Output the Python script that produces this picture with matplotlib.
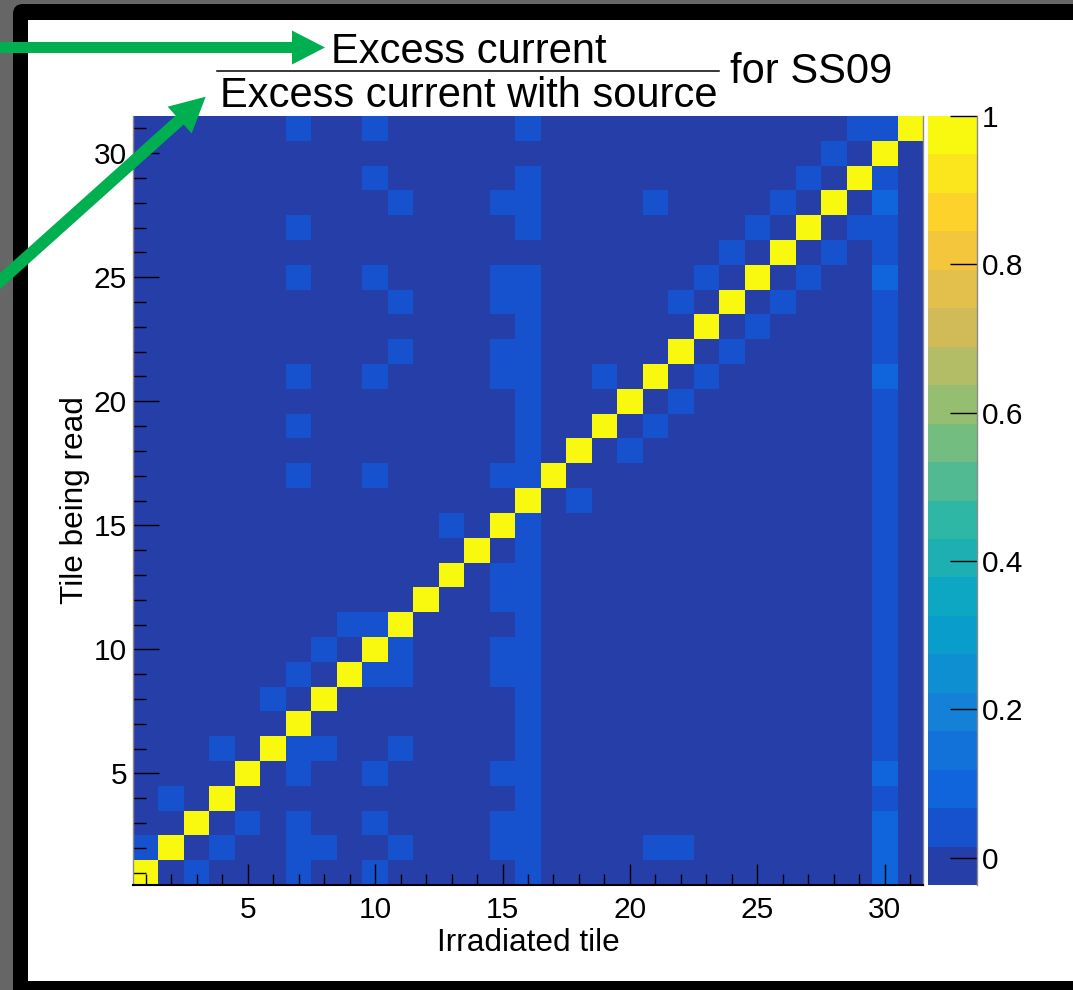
import numpy as np
import matplotlib
matplotlib.use("Agg")
import matplotlib.pyplot as plt
from matplotlib.colors import ListedColormap, BoundaryNorm
from matplotlib.patches import FancyArrow, Rectangle, FancyBboxPatch
from matplotlib.ticker import MultipleLocator, FixedLocator

plt.rcParams['font.family'] = ['Liberation Sans', 'DejaVu Sans']

# ---------------- data ----------------
irradiated_tile = list(range(1, 32))   # x bins
tile_read = list(range(1, 32))         # y bins
# ratio rows listed from tile 31 (top) down to tile 1 (bottom); columns = irradiated tile 1..31
ratio_top_down = [
    [0, 0, 0, 0, 0,   0, .04, 0, 0, .04,   0, 0, 0, 0, 0,   .04, 0, 0, 0, 0,   0, 0, 0, 0, 0,   0, 0, 0, .04, .04,   1],    # 31
    [0, 0, 0, 0, 0,   0, 0, 0, 0, 0,       0, 0, 0, 0, 0,   0, 0, 0, 0, 0,     0, 0, 0, 0, 0,   0, 0, .04, 0, 1,     0],    # 30
    [0, 0, 0, 0, 0,   0, 0, 0, 0, .04,     0, 0, 0, 0, 0,   .04, 0, 0, 0, 0,   0, 0, 0, 0, 0,   0, .04, 0, 1, .04,   0],    # 29
    [0, 0, 0, 0, 0,   0, 0, 0, 0, 0,       .04, 0, 0, 0, .04, .04, 0, 0, 0, 0, .04, 0, 0, 0, 0, .04, 0, 1, 0, .09,   0],    # 28
    [0, 0, 0, 0, 0,   0, .04, 0, 0, 0,     0, 0, 0, 0, 0,   .04, 0, 0, 0, 0,   0, 0, 0, 0, .04, 0, 1, 0, .04, .04,   0],    # 27
    [0, 0, 0, 0, 0,   0, 0, 0, 0, 0,       0, 0, 0, 0, 0,   0, 0, 0, 0, 0,     0, 0, 0, .04, 0, 1, 0, .04, 0, .04,   0],    # 26
    [0, 0, 0, 0, 0,   0, .04, 0, 0, .04,   0, 0, 0, 0, .04, .04, 0, 0, 0, 0,   0, 0, .04, 0, 1, 0, .04, 0, 0, .09,   0],    # 25
    [0, 0, 0, 0, 0,   0, 0, 0, 0, 0,       .04, 0, 0, 0, .04, .04, 0, 0, 0, 0, 0, .04, 0, 1, 0, .04, 0, 0, 0, .04,   0],    # 24
    [0, 0, 0, 0, 0,   0, 0, 0, 0, 0,       0, 0, 0, 0, 0,   .04, 0, 0, 0, 0,   0, 0, 1, 0, .04,   0, 0, 0, 0, .04,     0],    # 23
    [0, 0, 0, 0, 0,   0, 0, 0, 0, 0,       .04, 0, 0, 0, .04, .04, 0, 0, 0, 0, 0, 1, 0, .04, 0,   0, 0, 0, 0, .04,     0],    # 22
    [0, 0, 0, 0, 0,   0, .04, 0, 0, .04,   0, 0, 0, 0, .04, .04, 0, 0, .04, 0, 1, 0, .04, 0, 0,   0, 0, 0, 0, .09,     0],    # 21
    [0, 0, 0, 0, 0,   0, 0, 0, 0, 0,       0, 0, 0, 0, 0,   .04, 0, 0, 0, 1,   0, .04, 0, 0, 0,   0, 0, 0, 0, .04,     0],    # 20
    [0, 0, 0, 0, 0,   0, .04, 0, 0, 0,     0, 0, 0, 0, 0,   .04, 0, 0, 1, 0,   .04, 0, 0, 0, 0,   0, 0, 0, 0, .04,     0],    # 19
    [0, 0, 0, 0, 0,   0, 0, 0, 0, 0,       0, 0, 0, 0, 0,   .04, 0, 1, 0, .04, 0, 0, 0, 0, 0,     0, 0, 0, 0, .04,     0],    # 18
    [0, 0, 0, 0, 0,   0, .04, 0, 0, .04,   0, 0, 0, 0, .04, .04, 1, 0, 0, 0,   0, 0, 0, 0, 0,     0, 0, 0, 0, .04,     0],    # 17
    [0, 0, 0, 0, 0,   0, 0, 0, 0, 0,       0, 0, 0, 0, 0,   1, 0, .04, 0, 0,   0, 0, 0, 0, 0,     0, 0, 0, 0, .04,     0],    # 16
    [0, 0, 0, 0, 0,   0, 0, 0, 0, 0,       0, 0, .04, 0, 1, .04, 0, 0, 0, 0,   0, 0, 0, 0, 0,     0, 0, 0, 0, .04,     0],    # 15
    [0, 0, 0, 0, 0,   0, 0, 0, 0, 0,       0, 0, 0, 1, 0,   .04, 0, 0, 0, 0,   0, 0, 0, 0, 0,     0, 0, 0, 0, .04,     0],    # 14
    [0, 0, 0, 0, 0,   0, 0, 0, 0, 0,       0, 0, 1, 0, .04, .04, 0, 0, 0, 0,   0, 0, 0, 0, 0,     0, 0, 0, 0, .04,     0],    # 13
    [0, 0, 0, 0, 0,   0, 0, 0, 0, 0,       0, 1, 0, 0, .04, .04, 0, 0, 0, 0,   0, 0, 0, 0, 0,     0, 0, 0, 0, .04,     0],    # 12
    [0, 0, 0, 0, 0,   0, 0, 0, .04, .04,   1, 0, 0, 0, 0,   .04, 0, 0, 0, 0,   0, 0, 0, 0, 0,     0, 0, 0, 0, .04,     0],    # 11
    [0, 0, 0, 0, 0,   0, 0, .04, 0, 1,     .04, 0, 0, 0, .04, .04, 0, 0, 0, 0, 0, 0, 0, 0, 0,     0, 0, 0, 0, .04,     0],    # 10
    [0, 0, 0, 0, 0,   0, .04, 0, 1, .04,   .04, 0, 0, 0, .04, .04, 0, 0, 0, 0, 0, 0, 0, 0, 0,     0, 0, 0, 0, .04,     0],    # 9
    [0, 0, 0, 0, 0,   .04, 0, 1, 0, 0,     0, 0, 0, 0, 0,   .04, 0, 0, 0, 0,   0, 0, 0, 0, 0,     0, 0, 0, 0, .04,     0],    # 8
    [0, 0, 0, 0, 0,   0, 1, 0, 0, 0,       0, 0, 0, 0, 0,   .04, 0, 0, 0, 0,   0, 0, 0, 0, 0,     0, 0, 0, 0, .04,     0],    # 7
    [0, 0, 0, .04, 0, 1, .04, .04, 0, 0,   .04, 0, 0, 0, 0, .04, 0, 0, 0, 0,   0, 0, 0, 0, 0,     0, 0, 0, 0, .04,     0],    # 6
    [0, 0, 0, 0, 1,   0, .04, 0, 0, .04,   0, 0, 0, 0, .04, .04, 0, 0, 0, 0,   0, 0, 0, 0, 0,     0, 0, 0, 0, .09,     0],    # 5
    [0, .04, 0, 1, 0, 0, 0, 0, 0, 0,       0, 0, 0, 0, 0,   .04, 0, 0, 0, 0,   0, 0, 0, 0, 0,     0, 0, 0, 0, .04,     0],    # 4
    [0, 0, 1, 0, .04, 0, .04, 0, 0, .04,   0, 0, 0, 0, .04, .04, 0, 0, 0, 0,   0, 0, 0, 0, 0,     0, 0, 0, 0, .09,     0],    # 3
    [.04, 1, 0, .04, 0, 0, .04, .04, 0, 0, .04, 0, 0, 0, .04, .04, 0, 0, 0, 0, .04, .04, 0, 0, 0, 0, 0, 0, 0, .09,     0],    # 2
    [1, 0, .04, 0, 0, 0, .04, 0, 0, .04,   0, 0, 0, 0, 0,   .04, 0, 0, 0, 0,   0, 0, 0, 0, 0,     0, 0, 0, 0, .09,     0],    # 1
]
z_min, z_max = -0.037, 1.0
n_contours = 20
x_ticks = [5, 10, 15, 20, 25, 30]
y_ticks = [5, 10, 15, 20, 25, 30]
cbar_ticks = [0, 0.2, 0.4, 0.6, 0.8, 1.0]
cbar_ticklabels = ['0', '0.2', '0.4', '0.6', '0.8', '1']

for r in ratio_top_down:
    assert len(r) == 31, len(r)
Z = np.array(ratio_top_down[::-1], dtype=float)

# ---------------- ROOT kBird palette ----------------
stops = [0.0, 0.125, 0.25, 0.375, 0.5, 0.625, 0.75, 0.875, 1.0]
red = [0.2082, 0.0592, 0.0780, 0.0232, 0.1802, 0.5301, 0.8186, 0.9956, 0.9764]
green = [0.1664, 0.3599, 0.5041, 0.6419, 0.7178, 0.7492, 0.7328, 0.7862, 0.9832]
blue = [0.5293, 0.8684, 0.8385, 0.7914, 0.6425, 0.4662, 0.3499, 0.1968, 0.0539]
NC = 255
pal = []
for g in range(1, len(stops)):
    n = int(np.floor(NC * stops[g]) - np.floor(NC * stops[g - 1]))
    for c in range(n):
        f = c / n
        pal.append((red[g-1] + f * (red[g] - red[g-1]),
                    green[g-1] + f * (green[g] - green[g-1]),
                    blue[g-1] + f * (blue[g] - blue[g-1])))
band_colors = [pal[int((i + 0.99) * NC / n_contours)] for i in range(n_contours)]
cmap = ListedColormap(band_colors)
bounds = np.linspace(z_min, z_max, n_contours + 1)
norm = BoundaryNorm(bounds, ncolors=n_contours)

# ---------------- figure ----------------
W, H = 1073, 990
fig = plt.figure(figsize=(W / 100, H / 100), dpi=100)
fig.patch.set_facecolor('white')

# background frame
bg = fig.add_axes([0, 0, 1, 1], zorder=-5)
bg.set_xlim(0, W); bg.set_ylim(H, 0); bg.axis('off')
bg.add_patch(Rectangle((0, 0), W, H, facecolor='#666666', edgecolor='none'))
bg.add_patch(FancyBboxPatch((13, 4), 1200, 1200, boxstyle='round,pad=0,rounding_size=10',
                            facecolor='black', edgecolor='none'))
bg.add_patch(Rectangle((28, 20), 1200, 961, facecolor='white', edgecolor='none'))

def px(x0, y0, x1, y1):
    return [x0 / W, 1 - y1 / H, (x1 - x0) / W, (y1 - y0) / H]

ax = fig.add_axes(px(133, 116, 923, 885), zorder=0)
edges_x = np.arange(0.5, len(irradiated_tile) + 1.0, 1.0)
edges_y = np.arange(0.5, len(tile_read) + 1.0, 1.0)
mesh = ax.pcolormesh(edges_x, edges_y, Z, cmap=cmap, norm=norm, shading='flat')
ax.set_xlim(0.5, 31.5); ax.set_ylim(0.5, 31.5)
ax.xaxis.set_major_locator(FixedLocator(x_ticks))
ax.yaxis.set_major_locator(FixedLocator(y_ticks))
ax.xaxis.set_minor_locator(MultipleLocator(1))
ax.yaxis.set_minor_locator(MultipleLocator(1))
ax.tick_params(axis='both', which='both', direction='in', top=False, right=False,
               color='black', width=1.0)
ax.tick_params(axis='x', which='major', length=15, pad=8, labelsize=21.5)
ax.tick_params(axis='x', which='minor', length=8)
ax.tick_params(axis='y', which='major', length=18.5, pad=4.3, labelsize=21.5)
ax.tick_params(axis='y', which='minor', length=9.3)
for t in ax.get_xticklines() + ax.get_yticklines():
    t.set_zorder(5)
ax.spines['top'].set_visible(False)
ax.spines['right'].set_color('#8a8a8a'); ax.spines['right'].set_linewidth(1.0)
ax.spines['left'].set_color('#8a8a8a'); ax.spines['left'].set_linewidth(1.0)
ax.spines['bottom'].set_color('black'); ax.spines['bottom'].set_linewidth(1.5)

# colorbar
cax = fig.add_axes(px(928, 116, 977, 885), zorder=0)
cb = fig.colorbar(mesh, cax=cax, boundaries=bounds, ticks=cbar_ticks)
cb.outline.set_visible(False)
cax.set_yticklabels(cbar_ticklabels)
cax.minorticks_off()
cax.tick_params(axis='y', which='major', direction='in', length=19.5, width=1.0,
                pad=3.6, labelsize=21.5, color='black', right=True, left=False)
cax.plot([1, 1], [0, 1], transform=cax.transAxes, color='#8a8a8a', lw=1.0, clip_on=False)

# overlay: labels, title, arrows
ov = fig.add_axes([0, 0, 1, 1], zorder=10)
ov.set_xlim(0, W); ov.set_ylim(H, 0); ov.axis('off'); ov.patch.set_alpha(0)

ov.text(528, 951, 'Irradiated tile', ha='center', va='baseline', fontsize=22.7)
ov.text(83, 500.5, 'Tile being read', ha='center', va='baseline', fontsize=22.7,
        rotation=90, rotation_mode='anchor')

ov.text(468.5, 63, 'Excess current', ha='center', va='baseline', fontsize=30)
ov.plot([217, 719], [70.5, 70.5], color='black', lw=1.1)
ov.text(469, 107, 'Excess current with source', ha='center', va='baseline', fontsize=30)
ov.text(730, 83, 'for SS09', ha='left', va='baseline', fontsize=30)

green_c = '#00b050'
ov.add_patch(FancyArrow(-5, 47.5, 330, 0, width=11, head_width=34, head_length=33,
                        length_includes_head=True, facecolor=green_c, edgecolor='none'))
ov.add_patch(FancyArrow(-12, 292, 217.7, -195.3, width=12, head_width=36, head_length=35,
                        length_includes_head=True, facecolor=green_c, edgecolor='none'))

fig.savefig('out.png', dpi=100)
